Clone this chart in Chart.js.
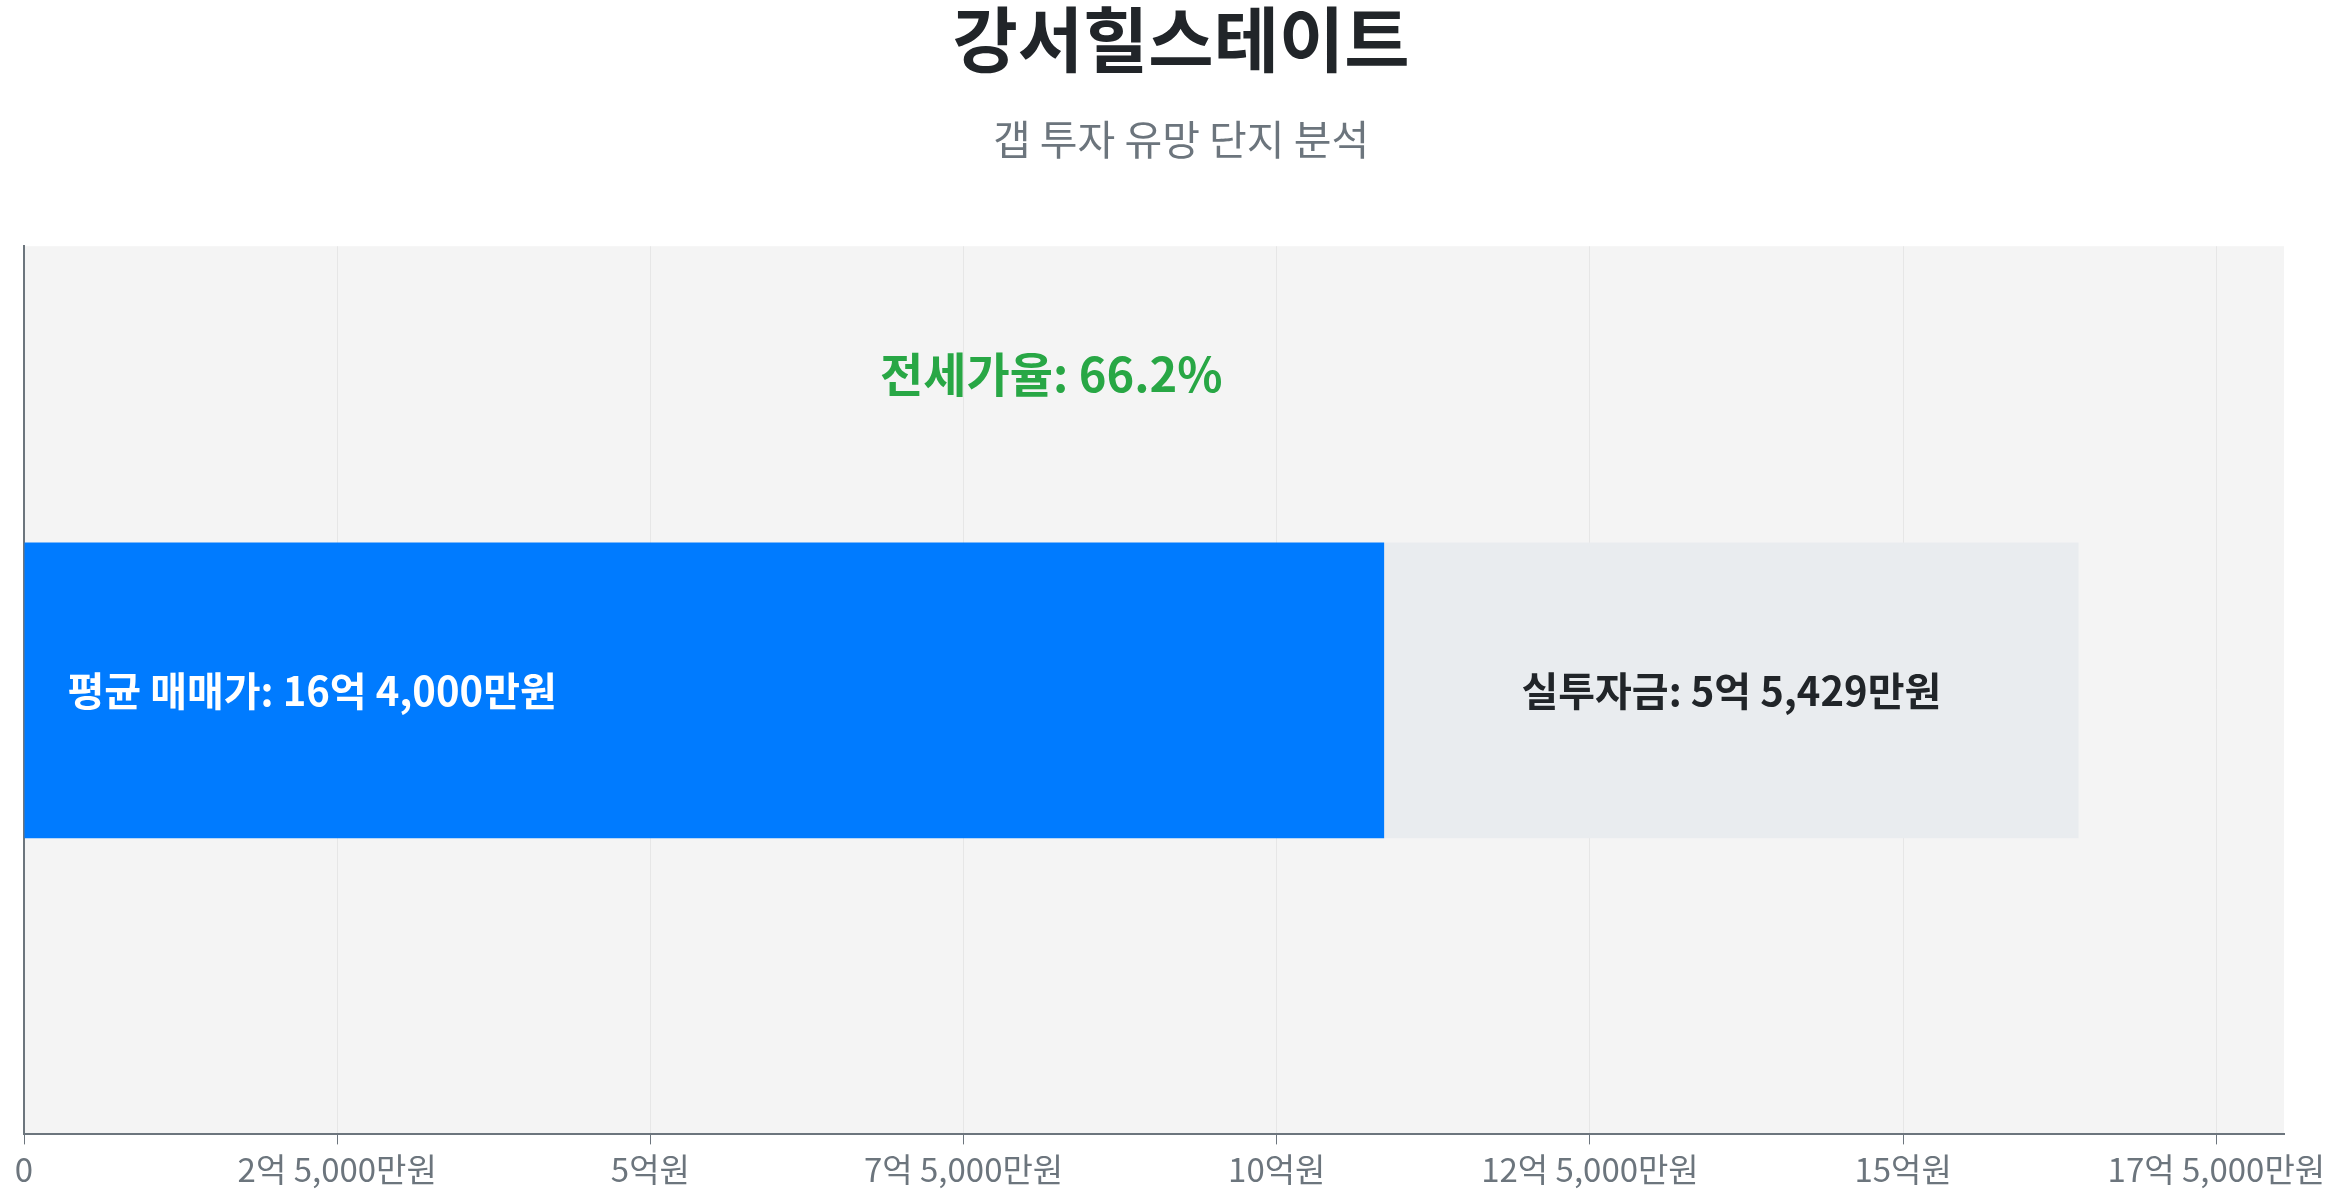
<!DOCTYPE html>
<html>
<head>
<meta charset="utf-8">
<script src="https://cdn.jsdelivr.net/npm/chart.js@4"></script>
<style>
  html, body { margin: 0; padding: 0; background: #ffffff; }
  #wrap { width: 2345px; height: 1200px; }
</style>
</head>
<body>
<div id="wrap"><canvas id="gap"></canvas></div>
<script>
// values in 만원
var categories = ["강서힐스테이트"];
var jeonse = [108571];      // 전세가 (blue part)
var cashNeeded = [55429];   // 실투자금 (grey part)
var avgPrice = [164000];    // 평균 매매가
var jeonseRate = [66.2];    // 전세가율 %
var tickStep = 25000;

var fontFam = "'Noto Sans CJK KR', 'Noto Sans', sans-serif";

function won(v) {
  var eok = Math.floor(v / 10000);
  var man = Math.round(v % 10000);
  if (eok === 0 && man === 0) return "0";
  var s = "";
  if (eok > 0) s += eok + "억";
  if (man > 0) s += (s ? " " : "") + man.toLocaleString("en-US") + "만원";
  else s += "원";
  return s;
}

// light grey plot background
var plotBg = {
  id: "plotBg",
  beforeDraw: function(chart) {
    var a = chart.chartArea, c = chart.ctx;
    c.save();
    c.fillStyle = "#f4f4f4";
    c.fillRect(a.left, a.top, a.right - a.left, a.bottom - a.top);
    c.restore();
  }
};

// text on and above the bar
var barText = {
  id: "barText",
  afterDatasetsDraw: function(chart) {
    var c = chart.ctx;
    var b0 = chart.getDatasetMeta(0).data[0];
    var b1 = chart.getDatasetMeta(1).data[0];
    var xs = chart.scales.x;
    c.save();
    c.textBaseline = "middle";
    c.font = "bold 40px " + fontFam;
    c.fillStyle = "#ffffff";
    c.textAlign = "left";
    c.fillText("평균 매매가: " + won(avgPrice[0]), b0.base + 43, b0.y);
    c.fillStyle = "#212529";
    c.textAlign = "center";
    c.fillText("실투자금: " + won(cashNeeded[0]), (b1.base + b1.x) / 2, b1.y);
    c.font = "bold 47px " + fontFam;
    c.fillStyle = "#28a745";
    c.fillText("전세가율: " + jeonseRate[0].toFixed(1) + "%", xs.getPixelForValue(avgPrice[0] / 2), b0.y - b0.height / 2 - 168);
    c.restore();
  }
};

var chart = new Chart(document.getElementById("gap"), {
  type: "bar",
  data: {
    labels: categories,
    datasets: [{
      label: "전세가",
      data: jeonse,
      backgroundColor: "#007bff",
      borderWidth: 0
    }, {
      label: "실투자금",
      data: cashNeeded,
      backgroundColor: "#e9ecef",
      borderWidth: 0
    }]
  },
  options: {
    indexAxis: "y",
    responsive: true,
    maintainAspectRatio: false,
    animation: false,
    categoryPercentage: 1,
    barPercentage: 0.333,
    layout: { padding: { left: 24, right: 7, top: 0, bottom: 6 } },
    plugins: {
      legend: { display: false },
      tooltip: { enabled: false },
      title: {
        display: true,
        text: "강서힐스테이트",
        color: "#212529",
        font: { family: fontFam, size: 71, weight: "bold", lineHeight: 1.1 },
        padding: { top: 0, bottom: 38 }
      },
      subtitle: {
        display: true,
        text: "갭 투자 유망 단지 분석",
        color: "#6c757d",
        font: { family: fontFam, size: 41, lineHeight: 1.15 },
        padding: { top: 0, bottom: 83 }
      }
    },
    scales: {
      x: {
        stacked: true,
        min: 0,
        max: avgPrice[0] * 1.1,
        afterBuildTicks: function(scale) {
          var t = [];
          for (var v = 0; v <= scale.max; v += tickStep) t.push({ value: v });
          scale.ticks = t;
        },
        afterFit: function(scale) { scale.paddingRight = 61; },
        ticks: {
          color: "#6c757d",
          font: { family: fontFam, size: 33 },
          padding: 5,
          maxRotation: 0,
          autoSkip: false,
          callback: function(v) { return won(v); }
        },
        grid: { color: "#e6e6e6", tickColor: "#6c757d", tickLength: 10, lineWidth: 1 },
        border: { display: true, color: "#6c757d", width: 2 }
      },
      y: {
        stacked: true,
        ticks: { display: false },
        grid: { display: false, drawTicks: false },
        border: { display: true, color: "#6c757d", width: 2 }
      }
    }
  },
  plugins: [plotBg, barText]
});
</script>
</body>
</html>
